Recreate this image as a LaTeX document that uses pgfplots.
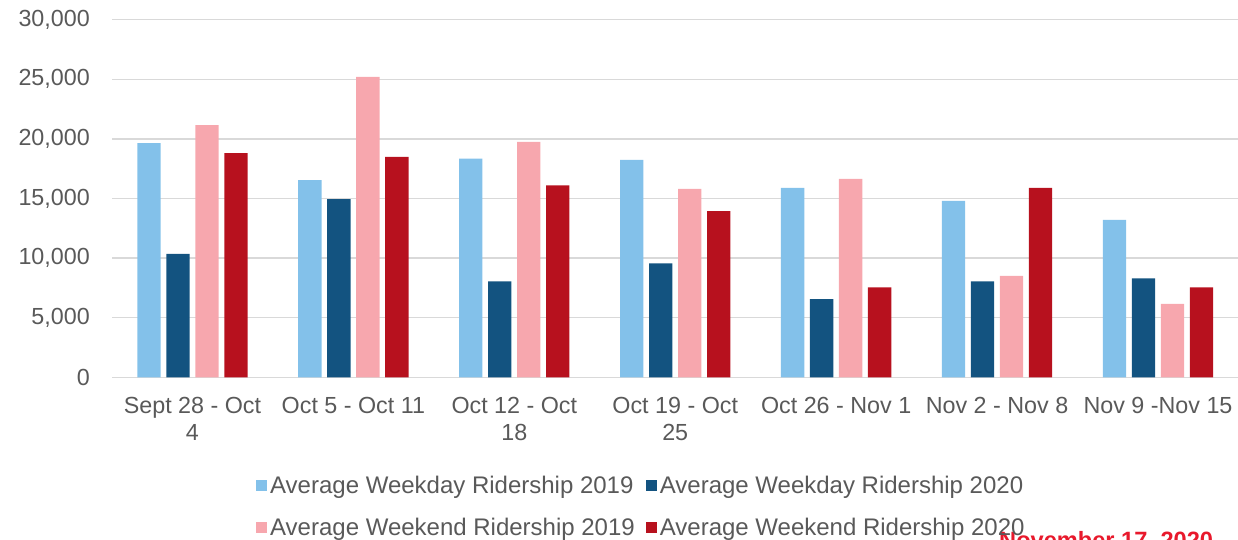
\documentclass[border=0pt]{standalone}
\usepackage{pgfplots}
\usepackage{pgfplotstable}
\pgfplotsset{compat=1.18}
\usepackage{fontspec}
\setmainfont{Liberation Sans}
\definecolor{lblue}{HTML}{83C1EA}
\definecolor{dblue}{HTML}{135380}
\definecolor{lpink}{HTML}{F7A7AE}
\definecolor{dred}{HTML}{B7111E}
\definecolor{txt}{HTML}{595959}
\definecolor{grd}{HTML}{D9D9D9}
\definecolor{datered}{HTML}{E8192C}

\pgfplotstableread{
x wd19 wd20 we19 we20
0 19650 10350 21150 18800
1 16550 14950 25200 18500
2 18350 8050 19750 16100
3 18250 9550 15800 13950
4 15900 6550 16650 7550
5 14800 8050 8500 15900
6 13200 8300 6150 7550
}\ridership

\begin{document}
\begin{tikzpicture}
\useasboundingbox (0,0) rectangle (1238pt,539pt);
\clip (0,0) rectangle (1238pt,539pt);
\node[anchor=base west, text=datered, font=\bfseries\fontsize{23.6}{28}\selectfont, inner sep=0pt] at (999pt,-9.6pt) {November 17, 2020};
\begin{axis}[
  at={(112pt,161.7pt)}, anchor=south west,
  scale only axis, width=1126.5pt, height=357.6pt,
  ymin=0, ymax=30000, ytick={0,5000,...,30000},
  xmin=-0.5, xmax=6.5, xtick={0,...,6},
  enlarge x limits=false,
  xticklabels={{Sept 28 - Oct\\4},{Oct 5 - Oct 11},{Oct 12 - Oct\\18},{Oct 19 - Oct\\25},{Oct 26 - Nov 1},{Nov 2 - Nov 8},{Nov 9 -Nov 15}},
  xticklabel style={align=center, font=\fontsize{23.3}{27}\selectfont, text=txt, inner sep=0pt, anchor=north, yshift=-20pt},
  yticklabel style={font=\fontsize{23.3}{27}\selectfont, text=txt, inner sep=0pt, anchor=east, xshift=-22pt},
  scaled y ticks=false,
  /pgf/number format/.cd, 1000 sep={,}, assume math mode=true, /pgfplots/.cd,
  axis line style={draw=none},
  major tick length=0pt,
  tick style={draw=none},
  ymajorgrids, grid style={grd, line width=1.5pt},
  ybar=5.7pt, bar width=23.3pt,
  legend columns=2,
  legend cell align=left,
  legend style={at={(0.1278,-0.276)}, anchor=north west, draw=none, fill=none,
    inner sep=0pt, row sep=23pt,
    nodes={inner sep=0pt, text=txt, font=\fontsize{24}{28}\selectfont},
    /tikz/every odd column/.append style={column sep=3pt},
    /tikz/every even column/.append style={column sep=11pt}},
  legend image code/.code={\fill[#1,draw=none] (0pt,-5.5pt) rectangle (11pt,5.5pt);},
]
\addplot[fill=lblue, draw=none] table[x=x, y=wd19] {\ridership};
\addplot[fill=dblue, draw=none] table[x=x, y=wd20] {\ridership};
\addplot[fill=lpink, draw=none] table[x=x, y=we19] {\ridership};
\addplot[fill=dred, draw=none] table[x=x, y=we20] {\ridership};
\legend{Average Weekday Ridership 2019, Average Weekday Ridership 2020, Average Weekend Ridership 2019, Average Weekend Ridership 2020}
\end{axis}
\end{tikzpicture}
\end{document}
